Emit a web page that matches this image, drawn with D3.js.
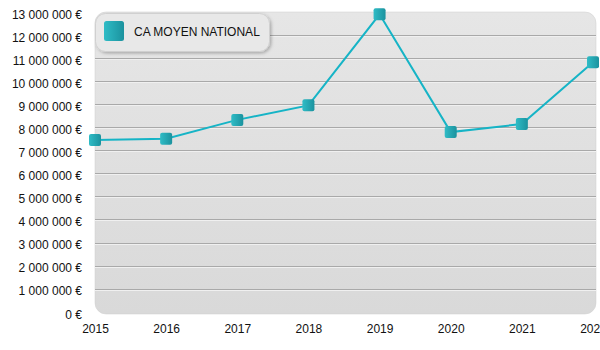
<!DOCTYPE html>
<html><head><meta charset="utf-8">
<script src="https://cdn.jsdelivr.net/npm/d3@7"></script>
<style>
html,body{margin:0;padding:0;background:#fff;}
svg{display:block;font-family:"Liberation Sans",Arial,sans-serif;}
</style></head>
<body><svg id="c" width="600" height="350"></svg>
<script>
const years = ["2015","2016","2017","2018","2019","2020","2021","2022"];
const values = [7450000, 7500000, 8320000, 8950000, 12900000, 7790000, 8140000, 10820000];
const yTicks = [0,1e6,2e6,3e6,4e6,5e6,6e6,7e6,8e6,9e6,10e6,11e6,12e6,13e6];
const seriesName = "CA MOYEN NATIONAL";

const svg = d3.select("#c");
const defs = svg.append("defs");
const bg = defs.append("linearGradient").attr("id","bg").attr("x1",0).attr("y1",0).attr("x2",0).attr("y2",1);
bg.append("stop").attr("offset","0%").attr("stop-color","#e6e6e6");
bg.append("stop").attr("offset","100%").attr("stop-color","#d9d9d9");
const mk = defs.append("linearGradient").attr("id","mk").attr("x1",0).attr("y1",0).attr("x2",1).attr("y2",0);
mk.append("stop").attr("offset","0%").attr("stop-color","#2fbcc6");
mk.append("stop").attr("offset","100%").attr("stop-color","#1b929e");
const sh = defs.append("filter").attr("id","sh").attr("x","-20%").attr("y","-20%").attr("width","150%").attr("height","160%");
sh.append("feDropShadow").attr("dx",1.5).attr("dy",1.5).attr("stdDeviation",1.5).attr("flood-color","#000").attr("flood-opacity",0.25);

const x = d3.scalePoint().domain(years).range([95, 593]);
const y = d3.scaleLinear().domain([0, 13e6]).range([311.7, 12]);

// plot background
svg.append("rect").attr("x",95).attr("y",12).attr("width",501).attr("height",302)
  .attr("rx",11).attr("fill","url(#bg)").attr("stroke","#cfcfcf").attr("stroke-width",0.5);

// gridlines
const g = svg.append("g");
yTicks.filter(t=>t>0 && t<13e6).forEach(t=>{
  const yy = Math.round(y(t)) + 0.5;
  g.append("line").attr("x1",95).attr("x2",596).attr("y1",yy).attr("y2",yy).attr("stroke","#a9a9a9").attr("stroke-width",1);
  g.append("line").attr("x1",95).attr("x2",596).attr("y1",yy+1).attr("y2",yy+1).attr("stroke","#f0f0f0").attr("stroke-width",1);
});

// y axis labels
const fmt = d3.formatLocale({decimal:",",thousands:" ",grouping:[3],currency:[""," €"]}).format(",");
const yAxis = d3.axisLeft(y).tickValues(yTicks).tickSize(0).tickPadding(0).tickFormat(d=>fmt(d)+" €");
svg.append("g").attr("transform","translate(82,2.5)").call(yAxis)
  .call(s=>s.select(".domain").remove())
  .selectAll("text").attr("font-size",12).attr("fill","#111").attr("font-family","Liberation Sans, Arial, sans-serif");

// x axis labels
const xAxis = d3.axisBottom(x).tickSize(0).tickPadding(0);
svg.append("g").attr("transform","translate(0,324)").call(xAxis)
  .call(s=>s.select(".domain").remove())
  .selectAll("text").attr("font-size",12).attr("fill","#111").attr("font-family","Liberation Sans, Arial, sans-serif");

// line
const data = years.map((yr,i)=>({yr, v:values[i]}));
svg.append("path").datum(data)
  .attr("d", d3.line().x(d=>x(d.yr)).y(d=>y(d.v)))
  .attr("fill","none").attr("stroke","#16b4c6").attr("stroke-width",2);

// markers
svg.append("g").selectAll("rect").data(data).join("rect")
  .attr("x",d=>x(d.yr)-6).attr("y",d=>y(d.v)-6).attr("width",12).attr("height",12)
  .attr("rx",2).attr("fill","url(#mk)");

// legend
const lg = svg.append("g");
lg.append("rect").attr("x",95.5).attr("y",13.5).attr("width",174).attr("height",38).attr("rx",10)
  .attr("fill","#e8e8e8").attr("stroke","#d0d0d0").attr("stroke-width",1).attr("filter","url(#sh)");
lg.append("rect").attr("x",104).attr("y",21).attr("width",20).attr("height",20).attr("rx",2.5).attr("fill","url(#mk)");
lg.append("text").attr("x",134).attr("y",35.5).attr("font-size",12).attr("fill","#111").text(seriesName);
</script></body></html>
